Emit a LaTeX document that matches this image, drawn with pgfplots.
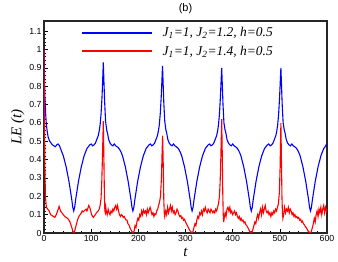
\documentclass[border=0pt]{standalone}
\usepackage{pgfplots}
\pgfplotsset{compat=1.18}
\usepackage{fontspec}
\setmainfont{Liberation Serif}
\setsansfont{Liberation Sans}
\begin{document}
\begin{tikzpicture}
\begin{axis}[
  name=ax,
  scale only axis,
  width=283bp, height=212bp,
  xmin=0, xmax=600, ymin=0, ymax=1.155,
  xtick={0,100,...,600}, ytick={0,0.1,...,1.1},
  minor x tick num=4, minor y tick num=4,
  xtick pos=bottom, ytick pos=left,
  tick align=inside,
  major tick length=4bp, minor tick length=2bp,
  every tick/.style={black, line width=0.6bp},
  axis line style={line width=1.2bp, black!85},
  /pgf/number format/assume math mode=true,
  /pgf/number format/fixed,
  ticklabel style={font=\sffamily\fontsize{8.8}{9}\selectfont},
  xticklabel style={yshift=1bp},
  yticklabel style={xshift=1bp},
  xlabel={\itshape t},
  xlabel style={font=\fontsize{15}{15}\selectfont, yshift=0bp},
  ylabel={\itshape LE (t)},
  ylabel style={font=\fontsize{15}{15}\selectfont, yshift=-2bp},
  title={(b)},
  title style={font=\sffamily\fontsize{11}{11}\selectfont, yshift=-2bp},
  legend style={draw=none, fill=none, at={(0.127,0.985)}, anchor=north west,
    font=\fontsize{13.5}{16}\selectfont\itshape, row sep=3.5bp, inner sep=1bp},
  legend cell align=left,
  clip=true,
]
\addlegendimage{legend image code/.code={\draw[blue, line width=1.5bp] (0bp,0bp) -- (70bp,0bp);}}
\addlegendentry{\hspace{8bp}J\textsubscript{1}=1, J\textsubscript{2}=1.2, h=0.5}
\addlegendimage{legend image code/.code={\draw[red, line width=1.5bp] (0bp,0bp) -- (70bp,0bp);}}
\addlegendentry{\hspace{8bp}J\textsubscript{1}=1, J\textsubscript{2}=1.4, h=0.5}
\addplot[blue, line width=1.1bp, forget plot] coordinates {
(0,1.0)(1,0.85)(2,0.74)(3.5,0.65)(5,0.59)(7,0.55)(9,0.52)(12,0.50)(15,0.49)(18,0.48)(21,0.475)(24,0.47)(27,0.48)(30,0.485)(33,0.475)(35,0.46)(38,0.44)(41,0.42)(44,0.39)(47,0.36)(50,0.32)(53,0.28)(56,0.23)(59,0.18)(61,0.14)(63,0.12)
(65,0.14)(67,0.18)(70,0.23)(73,0.28)(76,0.32)(79,0.36)(82,0.39)(85,0.42)(88,0.44)(91,0.46)(94,0.47)(97,0.48)(100,0.485)(103,0.475)(106,0.48)(109,0.49)(112,0.51)(115,0.53)(117,0.555)(119,0.59)(121,0.65)(123,0.74)(124.5,0.84)(125.75,0.93)(127,0.83)(128.5,0.72)(130.5,0.61)(133,0.56)(135,0.54)(137,0.51)(140,0.49)(143,0.48)(146,0.475)(149,0.485)(152,0.475)(155,0.47)
(157.5,0.465)(160.5,0.455)(163.5,0.44)(166.5,0.42)(169.5,0.39)(172.5,0.36)(175.5,0.32)(178.5,0.28)(181.5,0.23)(184.5,0.18)(186.5,0.14)(188.5,0.12)
(190.5,0.14)(192.5,0.18)(195.5,0.23)(198.5,0.28)(201.5,0.32)(204.5,0.36)(207.5,0.39)(210.5,0.42)(213.5,0.44)(216.5,0.46)(219.5,0.47)(222.5,0.48)(225.5,0.485)(228.5,0.475)(231.5,0.48)(234.5,0.49)(237.5,0.51)(240.5,0.53)(242.5,0.555)(244.5,0.59)(246.5,0.65)(248.5,0.74)(250,0.83)(251.25,0.91)(252.5,0.82)(254,0.71)(256,0.61)(258.5,0.56)(260.5,0.54)(262.5,0.51)(265.5,0.49)(268.5,0.48)(271.5,0.475)(274.5,0.485)(277.5,0.475)(280.5,0.47)
(283,0.465)(286,0.455)(289,0.44)(292,0.42)(295,0.39)(298,0.36)(301,0.32)(304,0.28)(307,0.23)(310,0.18)(312,0.14)(314,0.12)
(316,0.14)(318,0.18)(321,0.23)(324,0.28)(327,0.32)(330,0.36)(333,0.39)(336,0.42)(339,0.44)(342,0.46)(345,0.47)(348,0.48)(351,0.485)(354,0.475)(357,0.48)(360,0.49)(363,0.51)(366,0.53)(368,0.555)(370,0.59)(372,0.65)(374,0.74)(375.5,0.83)(376.75,0.90)(378,0.81)(379.5,0.70)(381.5,0.60)(384,0.56)(386,0.54)(388,0.51)(391,0.49)(394,0.48)(397,0.475)(400,0.485)(403,0.475)(406,0.47)
(408.5,0.465)(411.5,0.455)(414.5,0.44)(417.5,0.42)(420.5,0.39)(423.5,0.36)(426.5,0.32)(429.5,0.28)(432.5,0.23)(435.5,0.18)(437.5,0.14)(439.5,0.12)
(441.5,0.14)(443.5,0.18)(446.5,0.23)(449.5,0.28)(452.5,0.32)(455.5,0.36)(458.5,0.39)(461.5,0.42)(464.5,0.44)(467.5,0.46)(470.5,0.47)(473.5,0.48)(476.5,0.485)(479.5,0.475)(482.5,0.48)(485.5,0.49)(488.5,0.51)(491.5,0.53)(493.5,0.555)(495.5,0.59)(497.5,0.65)(499.5,0.74)(501,0.83)(502.25,0.90)(503.5,0.81)(505,0.70)(507,0.60)(509.5,0.56)(511.5,0.54)(513.5,0.51)(516.5,0.49)(519.5,0.48)(522.5,0.475)(525.5,0.485)(528.5,0.475)(531.5,0.47)
(534,0.465)(537,0.455)(540,0.44)(543,0.42)(546,0.39)(549,0.36)(552,0.32)(555,0.28)(558,0.23)(561,0.18)(563,0.14)(565,0.12)
(567,0.14)(569,0.18)(572,0.23)(575,0.28)(578,0.32)(581,0.36)(584,0.39)(587,0.42)(590,0.44)(593,0.46)(596,0.47)(598,0.48)(600,0.485)
};
\addplot[red, line width=1.1bp, forget plot] coordinates {
(0,1.0)(1,0.6)(2,0.35)(3,0.2)(5,0.14)(8,0.13)(11,0.12)(14,0.10)(17,0.095)(20,0.09)(23,0.085)(26,0.10)(29,0.12)(32,0.145)(35,0.12)(38,0.11)(41,0.10)(44,0.09)(47,0.085)(50,0.08)(53,0.07)(55,0.06)(57,0.045)(59,0.03)(61,0.01)(63,0.0)
(65,0.01)(67,0.03)(69,0.05)(71,0.07)(73,0.085)(75,0.095)(77,0.10)(79,0.11)(81,0.12)(83,0.115)(85,0.12)(87,0.125)(89,0.13)(91,0.12)(93,0.135)(95,0.15)(97,0.14)(99,0.12)(101,0.10)(103,0.09)(105,0.085)(107,0.095)(109,0.10)(111,0.11)(113,0.115)(115,0.12)(117,0.13)(119,0.15)(121,0.19)(122.5,0.28)(124,0.42)(125.75,0.61)(127,0.40)(128,0.22)(129,0.12)(130,0.11)(131,0.14)(132,0.12)(134,0.10)(136,0.13)(138,0.11)(140,0.10)(142,0.12)(144,0.11)(146,0.13)(148,0.12)(150,0.14)(152,0.15)(154,0.13)(156,0.15)(158,0.12)(160,0.10)(162,0.09)(164,0.10)(166,0.095)(168,0.085)(170,0.09)(172,0.08)(174,0.07)(176,0.07)(178,0.05)(180,0.045)(182,0.03)(184,0.02)(186,0.01)(188.5,0.0)
(191,0.01)(193,0.04)(195,0.03)(197,0.06)(199,0.08)(201,0.07)(203,0.10)(205,0.09)(207,0.12)(209,0.10)(211,0.125)(213,0.11)(215,0.12)(217,0.10)(219,0.13)(221,0.11)(223,0.125)(225,0.14)(227,0.12)(229,0.10)(231,0.11)(233,0.09)(235,0.105)(237,0.10)(239,0.12)(241,0.13)(243,0.15)(245,0.17)(247,0.20)(249,0.30)(250.5,0.45)(251.5,0.53)(253,0.35)(254,0.18)(255,0.11)(256,0.09)(258,0.12)(260,0.10)(262,0.14)(264,0.11)(266,0.13)(268,0.15)(270,0.12)(272,0.14)(274,0.11)(276,0.12)(278,0.10)(280,0.11)(282,0.13)(284,0.12)(286,0.10)(288,0.09)(290,0.095)(292,0.08)(294,0.085)(296,0.07)(298,0.075)(300,0.06)(302,0.05)(304,0.04)(306,0.03)(308,0.02)(310,0.01)(312,0.005)(314,0.0)
(316,0.01)(318,0.03)(320,0.05)(322,0.04)(324,0.07)(326,0.09)(328,0.08)(330,0.11)(332,0.10)(334,0.12)(336,0.10)(338,0.13)(340,0.12)(342,0.14)(344,0.12)(346,0.11)(348,0.13)(350,0.12)(352,0.11)(354,0.13)(356,0.12)(358,0.11)(360,0.12)(362,0.11)(364,0.13)(366,0.12)(368,0.14)(370,0.16)(372,0.20)(373.5,0.28)(375,0.42)(376.75,0.62)(378,0.42)(379,0.22)(380,0.10)(381,0.06)(382,0.08)(384,0.11)(386,0.09)(388,0.13)(390,0.14)(392,0.12)(394,0.14)(396,0.11)(398,0.12)(400,0.10)(402,0.11)(404,0.12)(406,0.10)(408,0.11)(410,0.09)(412,0.08)(414,0.09)(416,0.07)(418,0.08)(420,0.065)(422,0.07)(424,0.055)(426,0.06)(428,0.045)(430,0.04)(432,0.03)(434,0.02)(436,0.01)(438,0.005)(439.5,0.0)
(441,0.005)(443,0.02)(445,0.04)(447,0.06)(449,0.05)(451,0.08)(453,0.10)(455,0.08)(457,0.11)(459,0.13)(461,0.10)(463,0.14)(465,0.11)(467,0.13)(469,0.15)(471,0.12)(473,0.11)(475,0.12)(477,0.10)(479,0.11)(481,0.09)(483,0.11)(485,0.10)(487,0.12)(489,0.11)(491,0.13)(493,0.12)(495,0.14)(497,0.16)(499,0.22)(500.5,0.35)(502.25,0.60)(503.5,0.38)(504.5,0.20)(505.5,0.11)(506.5,0.08)(508,0.10)(510,0.14)(512,0.11)(514,0.13)(516,0.12)(518,0.14)(520,0.11)(522,0.13)(524,0.12)(526,0.10)(528,0.11)(530,0.09)(532,0.10)(534,0.085)(536,0.09)(538,0.08)(540,0.085)(542,0.07)(544,0.075)(546,0.06)(548,0.065)(550,0.05)(552,0.045)(554,0.035)(556,0.03)(558,0.02)(560,0.01)(562,0.005)(565,0.0)
(567,0.01)(569,0.03)(571,0.05)(573,0.08)(575,0.06)(577,0.10)(579,0.12)(581,0.09)(583,0.13)(585,0.11)(587,0.14)(589,0.10)(591,0.13)(593,0.15)(595,0.11)(597,0.14)(599,0.12)(600,0.13)
};
\end{axis}
\pgfresetboundingbox
\path (ax.south west) ++(-44bp,-29bp) rectangle ++(338bp,262bp);
\end{tikzpicture}
\end{document}
